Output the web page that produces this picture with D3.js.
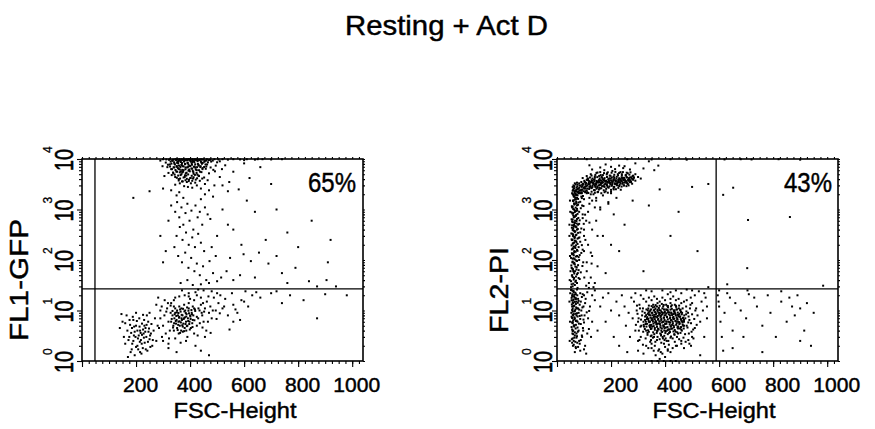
<!DOCTYPE html>
<html><head><meta charset="utf-8">
<script src="https://cdn.jsdelivr.net/npm/d3@7"></script>
<style>
body{margin:0;background:#fff}
svg{display:block}
text{font-family:"Liberation Sans",Arial,Helvetica,sans-serif;fill:#000;stroke:#000;stroke-width:0.45px}
</style>
</head><body>
<svg id="chart" width="875" height="429"></svg>
<script>
// ---- labels ----
const chartTitle = "Resting + Act D";
const xAxisTitle = "FSC-Height";
const yAxisTitles = ["FL1-GFP", "FL2-PI"];
const percentLabels = ["65%", "43%"];
const xTickValues = [200, 400, 600, 800, 1000];
const yDecades = [0, 1, 2, 3, 4];

// ---- gates (FSC channel, fluorescence) ----
const gateFsc = [48, 589];
const gateFl = [26.7, 26.7];

// ---- events: [FSC-Height, fluorescence] ----
// FL1-GFP panel
const gfpBright = [
[300,9900],[312,9800],[325,9900],[338,9700],[346,9900],[352,9800],[360,9950],[368,9800],[375,9900],[381,9700],[388,9900],[395,9900],[402,9800],[410,9950],[418,9800],[426,9900],[433,9700],[441,9900],[450,9800],[462,9900],[475,9700],[490,9900],[505,9800],[520,9900],[540,9700],[560,9900],[585,9800],[610,9900],[640,9700],[668,9900],[700,9800],
[335,9200],[342,8100],[350,7000],[356,8800],[362,6200],[368,7600],[371,5400],[377,9000],[383,6800],[386,4700],[391,8300],[394,5900],[398,7300],[402,4200],[405,6500],[409,8700],[413,5100],[417,7100],[421,3900],[425,6000],[429,8000],[433,4600],[438,6900],[442,5500],[447,8400],[452,4300],[458,6400],[463,7800],[470,5200],[478,8900],[486,6100],[495,7400],
[330,6300],[338,5200],[345,4400],[352,5600],[358,4000],[365,4800],[373,3600],[380,4400],[388,3500],[396,3900],[403,3300],[411,4100],[419,3400],[427,4900],[436,3700],[445,4100],[455,3200],[465,3800],
[325,7800],[332,4800],[348,9600],[355,6600],[363,9400],[370,8300],[376,6000],[382,7900],[389,9500],[393,7000],[400,9300],[407,7700],[414,9100],[420,6700],[426,9400],[432,7400],[440,9000],[446,6600],[454,9200],[460,7100],[468,9500],[476,6800],[484,9300],[492,5700],[500,8600],[510,9000],[518,6300],
[310,8500],[316,6900],[320,5300],[305,4600],[298,7200],[290,9300],[345,3100],[362,3300],[378,2900],[392,2800],[408,2700],[425,3000],[440,2600],[372,7200],[384,5200],[397,6200],[410,5800],[366,5700],[359,7400],[352,8400],[341,6800],[405,9700],[418,9800],[395,9900],[381,9700],[368,9800],[436,9700],
[530,7500],[560,5600],[600,8200],[620,4200],[660,6900],[700,3200],[545,3500],[580,2500],[510,4400],[520,3000],[540,2300],[470,2400],[455,2000],[485,1800],[360,2200],[350,1900],[375,1700],[330,2400],[300,2600],[250,2300],[190,1700],[440,1600],[490,3000],[600,9500],[650,9900],[740,9900]
];
const gfpBrightCore = [
[322,9650],[334,9400],[347,9750],[359,9300],[371,9600],[384,9450],[396,9700],[409,9350],[421,9600],[434,9500],[446,9750],[459,9300],[472,9600],
[328,8900],[341,8600],[353,9000],[366,8700],[378,8950],[391,8500],[403,8850],[416,8650],[428,9050],[441,8550],[453,8800],[466,8600],
[318,7700],[331,8100],[344,7800],[356,8200],[369,7600],[381,8000],[394,7750],[406,8150],[419,7850],[431,7650],[444,8050],[457,7800],
[326,7100],[339,6850],[351,7250],[364,6950],[376,7150],[389,6800],[401,7300],[414,7000],[426,6900],[439,7200],[452,6950],
[333,6300],[346,6050],[358,6350],[371,6100],[383,6250],[396,5950],[408,6400],[421,6150],[433,6000],[446,6300],
[337,5400],[349,5650],[362,5450],[374,5600],[387,5350],[399,5700],[412,5500],[424,5300],[437,5600],
[343,4900],[356,4700],[368,5000],[381,4750],[393,4950],[406,4650],[418,4850],[431,4700],
[351,4250],[363,4100],[376,4300],[388,4050],[401,4200],[413,4350],[426,4150],
[358,3750],[370,3600],[383,3800],[395,3650],[408,3700]
];
const gfpMid = [
[330,1200],[345,900],[352,1400],[360,700],[368,1100],[375,500],[383,850],[390,1300],[398,600],[405,950],[412,400],[420,1200],[428,700],[436,900],[445,500],[455,1100],[465,800],[475,650],[350,300],[362,450],[372,250],[385,350],[395,200],[408,280],[418,180],[430,330],[440,220],[452,150],[342,180],[356,120],[370,90],[382,140],[394,70],[404,110],[416,60],[425,85],[436,50],[448,75],[460,40],[472,95],[485,55],[495,120],[515,45],[535,60],[548,110],[560,40],[585,50],[598,130],[625,95],[640,45],[655,140],[690,85],[720,120],[740,55],[760,35],[790,70],[840,38],[870,30],[905,40],[560,400],[590,200],[610,1500],[640,900],[680,250],[720,1000],[760,350],[800,180],[850,600],[920,250],[940,30],[910,90],[320,600],[310,150],[300,90],[290,300],[520,1000],[540,500],[500,300],[480,180],[365,35],[390,40],[410,32],[440,33],[470,35],[500,38]
];
const gfpDim = [
[330,6],[335,8],[338,5],[342,7],[345,9],[348,5.5],[350,6.5],[352,4.5],[355,8],[357,6],[360,7.5],[362,5],[365,9.5],[367,4],[370,6.5],[372,8],[375,5.5],[377,7],[380,4.5],[382,10],[385,6],[387,8.5],[390,5],[392,7],[395,11],[398,6],[400,8],[403,4.5],[406,9],[410,6.5],[340,4],[358,3.5],[373,3.8],[386,4],[345,11],[360,12],[378,13],[395,14],[352,10],[368,11],
[300,5],[305,8],[310,3.5],[315,11],[320,6],[318,14],[325,4],[328,9],[295,12],[290,7],[285,4.5],[300,2.5],[320,2.2],[345,2.8],[365,2.3],[390,3],[415,3.5],[425,5],[430,7],[435,10],[440,13],[445,8],[450,6],[455,11],[462,15],[470,9],[475,12],[480,7],[488,18],[495,10],[505,14],[512,20],[520,11],[530,17],[540,8],[555,22],[560,13],[575,9],[590,16],[605,24],[615,12],[630,20],[645,23],[660,18],[700,22],[720,24],[740,14],[770,20],[820,16],[870,7],[900,21],[980,20],[560,6],[600,15],[415,16],[425,20],[440,18],[400,17],[380,20],[360,19],[340,16],[420,23],[450,25],[480,24],[500,22],[330,14],[410,12],[455,3],[470,1.3],[440,1.6],[460,4],[320,1.8],[350,1.5],[420,2],[385,2.5],[395,22],[370,25],[430,26],
[332,6.8],[337,4.6],[343,8.4],[347,6.2],[351,9.2],[356,5.2],[359,7.2],[363,10.5],[366,5.8],[369,8.2],[373,4.8],[376,6.8],[379,9.6],[383,5.4],[386,7.6],[389,11.5],[393,6.2],[396,8.8],[399,4.2],[402,6.8],[405,10.2],[408,5.6],[412,8],[416,6.4],[419,9.8],
[335,9.8],[341,5.6],[349,7.8],[354,4.1],[361,6.1],[368,7],[374,10.8],[381,7.3],[388,4.9],[394,9.9],[401,7.6],[409,4.7],[415,11],[340,12],[357,8.9],[371,5.1],[384,8.9],[397,5.4],[407,8.4],[425,7.5],[431,11],[436,5.6],[443,9],[363,3.6],[378,3.9],
[296,3],[306,16],[312,9.5],[322,2.8],[328,12.5],[418,10.5],[428,3.2],[446,4.6],[452,9.5],[466,6],[476,3.6],[484,10],[498,6.8],[510,8.8],[526,12],[546,4.2],[568,10.5],[585,6.5],[448,14],[468,19],[345,18],[395,19],[290,10],[275,13],[282,18]
];
const gfpSmall = [
[150,6],[165,8],[175,3],[185,4.5],[190,2.5],[195,3.8],[200,5],[205,2],[210,3.2],[215,4],[218,2.6],[222,5.5],[225,1.8],[228,3.5],[232,2.3],[235,4.5],[238,3],[242,1.6],[245,6],[250,2.7],[255,3.5],[260,2],[265,4],[270,7],[180,1.5],[195,1.3],[170,1.2],[208,1.7],[160,2.2],[230,6.5],[212,7],[200,9],[275,2.5],[280,5],[250,9],[190,6.5],[220,1.4],[240,8],
[168,4],[178,5.2],[186,2.2],[193,4.8],[198,3],[203,6.2],[207,2.8],[213,4.8],[217,3.6],[221,2.2],[226,4.2],[229,2.9],[234,3.8],[239,5.2],[244,2.4],[248,4.4],[252,3.2],[257,5.4],[262,2.6],[182,3.6],[200,1.9],[215,1.5],[236,1.7],[188,7.5],[226,8.2],
[140,4.5],[146,8.5],[155,3],[160,5.6],[172,2.6],[176,6.5],[184,1.7],[192,3.2],[205,4],[214,2.4],[222,3.3],[231,5],[246,3.8],[253,1.9]
];

// FL2-PI panel
const piStreak = [
[58,30],[66,32],[74,35],[52,38],[62,41],[80,44],[70,47],[56,50],[64,54],[88,57],[60,61],[72,65],[54,70],[68,74],[78,79],[62,85],[57,90],[74,96],[66,103],[52,110],[70,117],[84,125],[60,133],[64,142],[76,152],[55,162],[68,173],[62,185],[92,197],[58,210],[72,224],[66,240],[54,256],[80,273],[62,291],[70,310],[57,330],[86,352],[64,376],[74,400],[60,428],[68,456],[56,487],[82,520],[64,555],[72,592],[58,632],[95,675],[66,720],[60,768],[76,820],[54,875],[70,935],[63,1000],[88,1060],[58,1130],[74,1210],[66,1290],[80,1380],[60,1470],[70,1570],[92,1680],[64,1790],[76,1910],[58,2040],[84,2180],[68,2320],
[76,28],[54,33],[68,37],[84,42],[58,46],[74,52],[62,58],[80,63],[56,68],[94,76],[66,82],[58,93],[82,100],[62,108],[74,120],[56,130],[90,138],[64,150],[58,168],[80,180],[70,195],[60,215],[86,230],[56,248],[76,265],[66,285],[100,300],[60,320],[78,345],[68,370],[58,395],[90,420],[72,445],[62,470],[78,500],[66,540],[56,580],[84,610],[74,650],[62,700],[70,750],[104,790],[60,850],[82,900],[66,960],[74,1030],[56,1100],[98,1170],[64,1250],[72,1330],[86,1420],[62,1520],[78,1620],[68,1730],[96,1850],[60,1960],[80,2100],[72,2250],[62,2400],
[110,60],[125,140],[105,250],[130,400],[115,900],[140,1100],[120,1700],[135,2000],[108,600],[150,300],[118,35],[128,85],[145,1500],[112,2200],
[52,29],[60,34],[70,39],[63,44],[55,49],[77,55],[67,60],[59,66],[73,72],[53,78],[64,88],[71,98],[58,106],[80,114],[62,124],[55,136],[69,146],[74,158],[60,170],[66,182],[54,195],[76,208],[63,220],[70,235],[57,252],[65,268],[83,280],[59,300],[72,318],[53,335],[66,360],[61,385],[77,410],[55,435],[69,465],[63,495],[73,528],[58,560],[67,600],[54,640],[79,680],[64,730],[71,780],[57,830],[66,890],[75,950],[60,1020],[69,1090],[55,1160],[78,1240],[63,1320],[71,1410],[59,1500],[67,1600],[74,1700],[62,1820],[70,1950],
[47,40],[48,120],[46,300],[49,900],[50,60],[46,500],[48,1500],[101,45],[95,160],[99,520],[93,1200],[105,2600],[97,90]
];
const piStreakLow = [
[55,25],[62,23],[70,21],[58,19],[66,18],[78,17],[54,16],[72,15],[60,14],[84,13],[64,12.5],[56,12],[74,11],[68,10.5],[90,10],[58,9.5],[80,9],[62,8.5],[72,8],[54,7.5],[66,7],[86,6.8],[60,6.4],[76,6],[58,5.6],[70,5.2],[64,4.8],[96,4.5],[56,4.2],[80,4],[66,3.7],[60,3.4],[74,3.1],[58,2.8],[88,2.6],[68,2.4],[62,2.1],[78,1.9],[100,1.7],[66,1.5],
[74,26],[60,24],[86,22],[64,20.5],[56,19.5],[92,18.5],[70,17.5],[62,16.5],[80,15.5],[58,14.5],[104,14],[70,13.5],[60,12],[94,11.5],[78,11],[56,10.2],[66,9.8],[110,9.2],[74,8.8],[58,8.2],[84,7.8],[64,7.3],[98,6.6],[70,6.2],[56,5.8],[88,5.4],[62,5],[76,4.6],[118,4.3],[58,3.9],[72,3.5],[92,3.2],[64,2.9],[82,2.5],[56,2.3],[104,2],[70,1.8],[86,1.6],[122,12],[130,20],[115,7],[140,16],[112,23],[126,3],[108,1.4],
[52,25.5],[61,24.5],[68,22.5],[57,21],[75,20],[63,19],[54,17.8],[70,16.8],[59,15.8],[66,14.8],[77,14.2],[55,13.2],[62,12.2],[71,11.5],[58,10.8],[82,10.4],[64,9.6],[53,9],[69,8.6],[60,8],[76,7.6],[56,7.1],[65,6.7],[73,6.3],[58,5.9],[81,5.5],[63,5.1],[54,4.7],[69,4.4],[60,4],[77,3.8],[57,3.5],[66,3.2],[72,2.9],[55,2.7],[62,2.5],[84,2.2],[59,2],[69,1.9],[75,2.3],[91,8],[98,12],[106,17],[95,21],[100,5.8],[112,3.5],[119,9.8],[130,6],[88,15],[93,3],
[47,2.5],[48,6],[46,15],[49,22],[102,8],[97,4],[100,20]
];
const piBand = [
[100,2700],[106,3100],[112,2600],[118,3400],[124,2900],[130,3700],[136,3200],[142,2800],[148,3500],[154,3000],[160,3800],[166,3300],[172,2900],[178,3600],[184,3100],[190,4000],[196,3400],[202,3000],[208,3700],[214,3300],[220,4100],[226,3500],[232,3100],[238,3800],[244,3400],[250,4000],[256,3600],[262,3200],[268,3900],[274,3500],
[103,3500],[109,2900],[115,3800],[121,3200],[127,2700],[133,3400],[139,3900],[145,3100],[151,3600],[157,2700],[163,3400],[169,4000],[175,3100],[181,3700],[187,2800],[193,3500],[199,4100],[205,3200],[211,2800],[217,3600],[223,3000],[229,3900],[235,3300],[241,4200],[247,3000],[253,3600],[259,4300],[265,3000],[271,3700],[277,4100],
[108,3300],[120,2800],[132,3000],[144,3300],[156,3500],[168,3600],[180,3300],[192,3700],[204,3500],[216,3800],[228,3700],[240,3600],[252,3800],[264,3700],[126,3500],[138,3600],[150,2700],[162,3100],[174,3800],[186,3500],[198,3200],[210,3900],[222,3300],[234,4000],[246,3800],[258,3400],[270,4300],[282,3900],
[56,2100],[60,2500],[64,2900],[68,2300],[72,2700],[76,3100],[80,2600],[84,3000],[88,2400],[92,2800],[96,3200],[62,1900],[70,2000],[78,2200],[86,2100],[94,2500],[58,2800],[66,3300],[74,3400],[82,3300],[90,3500],[98,2300],
[95,4200],[110,4600],[125,5000],[140,4500],[150,5400],[162,4800],[175,6000],[185,5200],[195,4700],[205,5800],[215,6300],[225,5000],[235,5500],[245,6600],[255,4800],[262,5200],[270,6200],[280,4600],[290,5000],[300,4400],[130,6200],[160,6800],[200,7000],[230,7400],[250,7200],[120,7500],[180,7800],[290,8200],[320,6500],[340,9000],[360,6000],[375,7400],[115,4000],[165,4400],[210,4500],[240,4700],[285,4300],[310,4100],
[90,1800],[110,2100],[130,1500],[150,2200],[170,1900],[120,1300],[140,2400],[160,1100],[100,1600],[180,2300],[200,2100],[220,1700],[105,2300],[125,2000],[145,1700],[190,1400],
[110,9900],[200,9800],[260,9900],[350,9800],[420,9900],[480,9700]
];
const piBandCore = [
[92,2450],[101,2600],[110,2380],[119,2550],[128,2650],[137,2420],[146,2580],[155,2480],[164,2640],[173,2400],[182,2560],[191,2700],[200,2450],[209,2620],[218,2520],[227,2680],[236,2460],
[95,2950],[104,2820],[113,3000],[122,2860],[131,2780],[140,2980],[149,2840],[158,3050],[167,2900],[176,2800],[185,3020],[194,2880],[203,2960],[212,2810],[221,3070],[230,2920],[239,2840],[248,3000],[257,2900],
[98,3250],[107,3380],[116,3200],[125,3420],[134,3300],[143,3180],[152,3400],[161,3260],[170,3450],[179,3220],[188,3380],[197,3280],[206,3460],[215,3200],[224,3350],[233,3480],[242,3230],[251,3400],[260,3300],[269,3460],[278,3240],
[101,3700],[110,3850],[119,3650],[128,3800],[137,3900],[146,3680],[155,3820],[164,3720],[173,3950],[182,3700],[191,3860],[200,3760],[209,3920],[218,3680],[227,3840],[236,3740],[245,3980],[254,3700],[263,3880],[272,3780],[281,3960],[290,3720],
[113,4150],[122,4300],[131,4100],[140,4250],[149,4380],[158,4120],[167,4280],[176,4180],[185,4400],[194,4150],[203,4320],[212,4220],[221,4450],[230,4160],[239,4330],[248,4240],[257,4420],[266,4180],[275,4350],[284,4260],
[128,4700],[142,4850],[156,4620],[170,4800],[184,4950],[198,4650],[212,4880],[226,4720],[240,5000],[254,4760],[268,4900],[282,4680],
[58,2350],[63,2650],[67,2050],[71,2450],[75,2850],[79,2300],[83,2700],[87,2950],[91,2200],[61,3000],[69,3150],[77,2550],[85,2400],[93,3100],[73,1950],[65,2200],
[80,2150],[92,2100],[104,2200],[116,2120],[128,2250],[140,2140],[152,2230],[164,2100],[176,2200],[188,2150],[200,2250],
[146,5300],[160,5500],[174,5250],[188,5450],[202,5350],[216,5550],[230,5300],[244,5500],[258,5350],[272,5450]
];
const piLive = [
[320,6],[325,9],[330,4],[334,7],[338,11],[342,5],[346,8],[350,3.2],[354,6.5],[358,10],[362,4.5],[366,7.5],[370,12],[374,5.5],[378,9],[382,3.5],[386,6.5],[390,11],[394,4.8],[398,8],[402,2.8],[406,6],[410,10],[414,4.2],[418,7],[422,12],[426,5.2],[430,8.5],[434,3.4],[438,6.2],[442,10.5],[446,4.6],[450,7.6],[454,5.6],[458,9.4],[462,4],[466,7],[470,6],
[322,4.8],[326,7.6],[331,10.5],[335,3.6],[339,6.2],[343,9.5],[347,4.3],[351,7],[355,11.5],[359,3],[363,5.8],[367,8.8],[371,4],[375,6.8],[379,10.2],[383,5],[387,8.2],[391,3],[395,6],[399,9.6],[403,4.6],[407,7.4],[411,11.5],[415,3.6],[419,5.8],[423,8.8],[427,4.4],[431,6.8],[435,10],[439,3.8],[443,5.6],[447,8.2],[451,11],[455,4.4],[459,6.6],[463,9],[467,5],[471,8],
[328,5.4],[336,8.6],[344,6],[352,4.8],[360,8.2],[368,5.4],[376,4.2],[384,7.8],[392,9],[400,5.4],[408,4],[416,9.2],[424,6.4],[432,5],[440,8],[448,6],[456,7.6],[464,5.8],[340,12.5],[356,13],[372,14],[388,13.5],[404,13],[420,14],[436,13],[452,12.5],[348,2.6],[364,2.4],[380,2.7],[396,2.2],[412,2.5],[428,2.8],[444,3],[380,6],[396,7.2],[372,9.8],[404,10.5],[364,10.8],[418,8],[388,4.4],
[333,6.8],[341,8.2],[349,5.2],[357,7.2],[365,6.2],[373,7.8],[381,8.8],[389,5.8],[397,4],[405,8.8],[413,6],[421,4.8],[429,7.2],[437,8.8],[445,6.8],[453,8.6],[461,6.2],[469,4.4],[377,11.2],[393,12],[409,12.2],[425,10.8],[441,11.8],[457,10.4],[345,10],[361,11.8],[353,9],[369,3.6],[385,3.2],[401,3.6],[417,4.2],[433,9.6],[449,4.8],[465,11],[475,7],[480,5],[485,9],[478,12],[490,6.5],[488,3.5],[315,8],[312,5],[318,11],[310,3],
[280,7],[290,4],[295,10],[300,2.5],[305,13],[300,6],[285,15],[270,3],[265,9],[275,18],[255,5],[250,12],[240,20],[230,8],[220,15],[210,3],[200,10],[190,22],[180,6],[170,18],[160,12],[150,4],[140,25],[230,2],[260,1.5],[300,1.6],[320,1.4],[330,2],[350,1.8],[365,1.3],[375,1.6],[380,1.1],[390,1.4],[400,1.2],[410,1.7],[420,1.5],[440,2],[460,2.5],[470,1.8],[490,2.2],[500,3],[510,4.5],[520,8],[515,11],[500,14],[495,18],[510,20],[530,6],[540,10],[535,15],[525,24],[545,3],[550,18],[555,7],[480,16],[470,15],[460,14],[450,17],[440,16],[430,19],[420,17],[410,21],[400,16],[390,18],[380,15],[370,17],[360,19],[350,16],[340,18],[330,15],[320,17],[310,20],[420,23],[460,22],[500,25],[350,24],[390,25],[440,25],[480,26],[290,22],[330,25],[530,1.3],[555,12],[545,22],[350,1],[372,1],[395,1],[420,1],[440,1],
[305,2.6],[318,2.1],[328,2.8],[338,1.8],[345,2.4],[355,2.9],[362,2.0],[370,2.6],[378,1.7],[386,2.3],[392,2.8],[400,1.9],[406,2.5],[414,2.1],[420,2.9],[428,1.8],[436,2.4],[444,2.0],[452,2.7],[460,2.2],[468,2.9],[476,2.4],[486,2.6],[496,2.0],[505,2.8],[358,1.6],[384,1.5],[410,1.6],[398,2.6],[350,2.2],
[474,3.4],[479,9.6],[483,4.6],[487,7.6],[492,11],[496,5.6],[500,8.4],[504,4.2],[508,6.8],[512,10],[517,5.2],[494,13],[478,8.4],[486,5.8],[498,3.8],
[292,5.2],[298,8.6],[303,4],[307,11],[311,6.6],[316,9.6],[319,3.8],[296,12.5],[302,7],[309,4.8]
];
const piLiveCore = [
[335,3.3],[347,3.1],[360,3.4],[372,3.0],[385,3.35],[397,3.15],[410,3.4],[422,3.05],[435,3.3],[448,3.5],
[325,4.3],[337,4.05],[350,4.4],[362,4.15],[374,4.35],[386,4.0],[398,4.45],[411,4.2],[423,4.35],[436,4.1],[448,4.4],[460,4.2],
[321,5.2],[333,5.45],[345,5.15],[357,5.5],[369,5.25],[381,5.4],[393,5.1],[405,5.45],[417,5.3],[429,5.55],[441,5.2],[453,5.4],[465,5.25],
[326,6.5],[338,6.8],[350,6.45],[362,6.75],[374,6.55],[386,6.9],[398,6.5],[410,6.7],[422,6.45],[434,6.85],[446,6.6],[458,6.8],[470,6.5],
[330,8.1],[342,8.4],[354,8.05],[366,8.35],[378,8.2],[390,8.5],[402,8.1],[414,8.4],[426,8.15],[438,8.45],[450,8.2],[462,8.4],
[336,10.1],[348,10.5],[360,10.2],[372,10.4],[384,10.0],[396,10.5],[408,10.2],[420,10.4],[432,10.1],[444,10.5],[456,10.2],
[350,12.2],[365,12.8],[380,12.4],[395,12.9],[410,12.3],[425,12.7],[440,12.4],
[340,3.8],[356,3.7],[371,3.9],[389,3.75],[403,3.9],[418,3.75],[431,3.85],[445,3.7],[457,3.6],
[331,4.8],[344,4.7],[358,4.9],[370,4.75],[383,4.6],[396,4.85],[409,4.7],[421,4.9],[433,4.65],[447,4.8],[459,4.7],[470,5.0],
[329,6.0],[341,5.85],[355,6.05],[367,5.9],[379,6.1],[391,5.95],[404,6.05],[416,5.85],[428,6.0],[440,6.1],[452,5.9],[465,6.1],
[334,7.4],[346,7.2],[359,7.5],[371,7.3],[383,7.45],[395,7.2],[407,7.5],[419,7.25],[431,7.45],[443,7.3],[455,7.5],[467,7.2],
[339,9.2],[351,9.0],[363,9.3],[375,9.1],[387,9.35],[399,9.0],[411,9.25],[423,9.1],[435,9.3],[447,9.1],[459,9.3]
];
const piScatter = [
[95,800],[100,400],[115,200],[130,120],[145,600],[160,1000],[110,90],[125,45],[140,35],[150,75],[170,300],[190,1300],[210,800],[230,150],[250,500],[280,1500],[320,60],[340,1200],[380,2500],[420,300],[450,900],[500,2800],[520,150],[560,3200],[210,2500],[160,2600],[100,150],[120,550],[180,55],[200,200],[108,31],[118,28],[135,29],[560,29],
[652,2700],[707,620],[862,710],[704,69],[630,33],[985,31],[615,1950],[620,9800],[680,9900],[720,9800],[820,9900],[900,9700],
[595,20],[600,12],[605,6],[610,3],[598,15],[620,9],[630,22],[640,18],[650,4],[660,14],[680,10],[700,7],[710,21],[730,18],[740,12],[760,5],[780,20],[790,9],[810,3],[830,15],[850,6],[860,18],[870,12],[880,8],[890,20],[900,11],[915,4],[925,14],[940,2],[600,25],[615,1.6],[650,1.8],[760,1.5],[900,2.5],[830,24],[705,25],[690,3],[950,9]
];

const panelEvents = [
  [].concat(gfpBright, gfpBrightCore, gfpMid, gfpDim, gfpSmall),
  [].concat(piStreak, piStreakLow, piBand, piBandCore, piLive, piLiveCore, piScatter)
];

// ---- layout ----
const layout = [
  {x0: 82, x1: 363, labelBase: 73, titleBase: 28, titleMid: 280, titleLen: 122, tickShift: 4, xTitleMid: 235, pctRight: 356},
  {x0: 557, x1: 838, labelBase: 552, titleBase: 508, titleMid: 290, titleLen: 86, tickShift: 9, xTitleMid: 714, pctRight: 832}
];
const plotTop = 159, plotBottom = 361;
const fscMax = 1040;
const dot = 2;

const svg = d3.select("#chart");

svg.append("text")
  .attr("x", 446.5).attr("y", 35)
  .attr("text-anchor", "middle")
  .attr("font-size", 28)
  .attr("textLength", 203).attr("lengthAdjust", "spacingAndGlyphs")
  .text(chartTitle);

const minorX = d3.range(0, 1026, 25);
const minorY = [];
yDecades.slice(0, -1).forEach(d => { for (let k = 2; k <= 9; k++) minorY.push(k * Math.pow(10, d)); });
const majorY = yDecades.map(d => Math.pow(10, d));

layout.forEach((L, i) => {
  const x = d3.scaleLinear().domain([0, fscMax]).range([L.x0, L.x1]);
  const y = d3.scaleLog().domain([1, 1e4]).range([plotBottom, plotTop]).clamp(true);
  const g = svg.append("g");

  // events
  g.append("g").selectAll("rect").data(panelEvents[i]).join("rect")
    .attr("x", d => x(d[0]) - dot / 2)
    .attr("y", d => y(d[1]) - dot / 2)
    .attr("width", dot).attr("height", dot)
    .attr("fill", "#000");

  // gates
  g.append("line")
    .attr("x1", x(0)).attr("x2", x(fscMax))
    .attr("y1", y(gateFl[i])).attr("y2", y(gateFl[i]))
    .attr("stroke", "#000").attr("stroke-width", 1.3);
  g.append("line")
    .attr("x1", x(gateFsc[i])).attr("x2", x(gateFsc[i]))
    .attr("y1", plotTop).attr("y2", plotBottom)
    .attr("stroke", "#000").attr("stroke-width", 1.3);

  // frame
  g.append("rect")
    .attr("x", x(0)).attr("y", plotTop)
    .attr("width", x(fscMax) - x(0)).attr("height", plotBottom - plotTop)
    .attr("fill", "none").attr("stroke", "#000").attr("stroke-width", 1.6);

  // x axis: minor and major ticks
  const axMinor = g.append("g").attr("transform", `translate(0,${plotBottom})`)
    .call(d3.axisBottom(x).tickValues(minorX).tickSize(3).tickFormat(""));
  axMinor.select(".domain").remove();
  const axMajor = g.append("g").attr("transform", `translate(0,${plotBottom})`)
    .call(d3.axisBottom(x).tickValues([0].concat(xTickValues)).tickSize(6).tickFormat(v => v === 0 ? "" : String(v)));
  axMajor.select(".domain").remove();
  axMajor.selectAll("text")
    .attr("y", 31).attr("dy", 0).attr("dx", L.tickShift)
    .attr("font-size", 20).attr("font-family", null)
    .attr("textLength", function () { return this.textContent.length * 11.7; })
    .attr("lengthAdjust", "spacingAndGlyphs");

  // small top / right ticks
  const axTop = g.append("g").attr("transform", `translate(0,${plotTop})`)
    .call(d3.axisTop(x).tickValues(minorX).tickSize(2).tickFormat(""));
  axTop.select(".domain").remove();
  const axRight = g.append("g").attr("transform", `translate(${x(fscMax)},0)`)
    .call(d3.axisRight(y).tickValues(minorY.concat(majorY)).tickSize(2).tickFormat(""));
  axRight.select(".domain").remove();

  // y axis ticks
  const ayMinor = g.append("g").attr("transform", `translate(${x(0)},0)`)
    .call(d3.axisLeft(y).tickValues(minorY).tickSize(3).tickFormat(""));
  ayMinor.select(".domain").remove();
  const ayMajor = g.append("g").attr("transform", `translate(${x(0)},0)`)
    .call(d3.axisLeft(y).tickValues(majorY).tickSize(5).tickFormat(""));
  ayMajor.select(".domain").remove();
  g.selectAll(".tick line").attr("stroke", "#000").attr("stroke-width", 1.1);

  // y tick labels: 10 with exponent, rotated
  const lab = g.append("g").selectAll("g").data(yDecades).join("g")
    .attr("transform", d => `translate(${L.labelBase},${y(Math.pow(10, d))}) rotate(-90)`);
  lab.append("text")
    .attr("x", -12).attr("y", 0)
    .attr("font-size", 26)
    .attr("textLength", 22).attr("lengthAdjust", "spacingAndGlyphs")
    .style("stroke-width", "0.6px")
    .text("10");
  lab.append("text")
    .attr("x", 6).attr("y", -21)
    .attr("font-size", 12)
    .style("stroke-width", "0.3px")
    .text(d => d);

  // y title
  svg.append("text")
    .attr("transform", `translate(${L.titleBase},${L.titleMid}) rotate(-90)`)
    .attr("text-anchor", "middle")
    .attr("font-size", 25)
    .attr("textLength", L.titleLen).attr("lengthAdjust", "spacingAndGlyphs")
    .text(yAxisTitles[i]);

  // x title
  svg.append("text")
    .attr("x", L.xTitleMid).attr("y", 418)
    .attr("text-anchor", "middle")
    .attr("font-size", 22)
    .attr("textLength", 123).attr("lengthAdjust", "spacingAndGlyphs")
    .text(xAxisTitle);

  // percentage
  svg.append("text")
    .attr("x", L.pctRight).attr("y", 192)
    .attr("text-anchor", "end")
    .attr("font-size", 27)
    .attr("textLength", 48).attr("lengthAdjust", "spacingAndGlyphs")
    .text(percentLabels[i]);
});
</script>
</body></html>
